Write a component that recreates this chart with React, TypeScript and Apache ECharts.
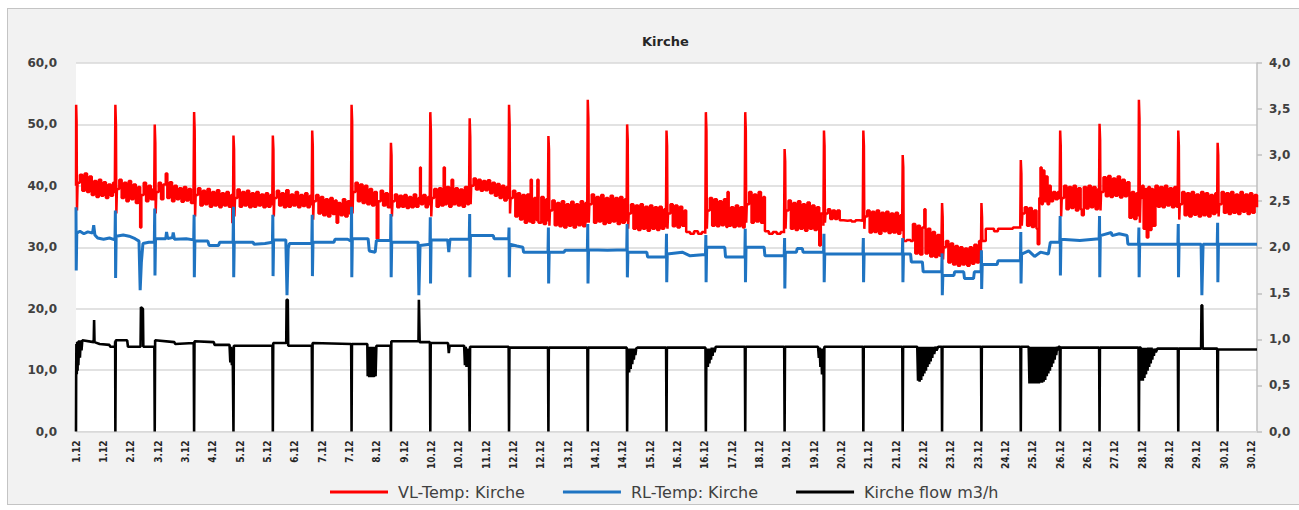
import React, { useEffect, useRef } from "react";
import * as echarts from "echarts";

const chartTitle = "Kirche";
const seriesNames = ["VL-Temp: Kirche", "RL-Temp: Kirche", "Kirche flow m3/h"];
const xTickLabels = [
  "1.12", "1.12", "2.12", "3.12", "3.12", "4.12", "5.12", "5.12", "6.12", "7.12", "7.12",
  "8.12", "9.12", "10.12", "10.12", "11.12", "12.12", "12.12", "13.12", "14.12", "14.12",
  "15.12", "16.12", "16.12", "17.12", "18.12", "19.12", "19.12", "20.12", "21.12", "21.12",
  "22.12", "23.12", "23.12", "24.12", "25.12", "26.12", "26.12", "27.12", "28.12", "28.12",
  "29.12", "30.12", "30.12",
];

// time in days since 1.12 00:00, value in °C
const vlTemp: [number, number][] = [
  [0,40],[0.004,53.2],[0.015,50.5],[0.025,36],[0.04,40.5],[0.1,41.8],[0.16,39.2],[0.22,42],[0.28,39],[0.34,41.5],[0.4,38.5],[0.46,40.8],[0.52,38.2],[0.58,41],[0.64,38.4],[0.7,40.6],[0.76,38],[0.82,40.2],[0.88,38.4],[0.94,40.5],[0.985,38.8],
  [1,53.2],[1.015,50],[1.025,35.5],[1.04,39.5],[1.1,41],[1.16,38],[1.22,40.5],[1.28,37.5],[1.34,40.8],[1.4,37.8],[1.46,40.2],[1.52,37.2],[1.58,39.8],[1.63,33.2],[1.66,38.5],[1.72,40.5],[1.78,37.5],[1.84,40],[1.9,37.8],[1.96,39.5],[1.985,37.6],
  [2,50],[2.015,47],[2.025,35.5],[2.04,39],[2.1,40.5],[2.16,37.8],[2.22,40.2],[2.28,42],[2.32,38],[2.38,40.6],[2.44,37.5],[2.5,40],[2.56,37.8],[2.62,39.6],[2.68,37.4],[2.74,39.8],[2.8,37.6],[2.86,39.5],[2.92,37.2],[2.985,39],
  [3,52],[3.015,49],[3.025,35],[3.04,38.5],[3.1,39.6],[3.16,36.8],[3.22,39.2],[3.28,37],[3.34,39.5],[3.4,36.6],[3.46,39],[3.52,36.8],[3.58,39.3],[3.64,36.5],[3.7,38.8],[3.76,36.8],[3.82,39],[3.88,36.6],[3.94,38.5],[3.97,34],[3.99,37.5],
  [4,48.2],[4.015,46],[4.025,35],[4.04,38],[4.1,39.4],[4.16,36.6],[4.22,39],[4.28,36.8],[4.34,39.2],[4.4,36.5],[4.46,38.8],[4.52,36.6],[4.58,39],[4.64,36.8],[4.7,38.6],[4.76,36.5],[4.82,38.8],[4.88,36.6],[4.94,38.5],[4.985,36.8],
  [5,48.2],[5.015,46],[5.025,35],[5.04,38],[5.1,39.2],[5.16,36.8],[5.22,38.8],[5.28,36.5],[5.34,39.3],[5.4,36.6],[5.46,38.6],[5.52,36.8],[5.58,39],[5.64,36.5],[5.7,38.5],[5.76,36.7],[5.82,38.8],[5.88,36.5],[5.94,38.4],[5.985,36.8],
  [6,49],[6.015,46.5],[6.025,34.5],[6.04,37.5],[6.1,38.5],[6.16,35.5],[6.22,38.2],[6.28,35.2],[6.34,37.8],[6.4,35],[6.46,38],[6.52,35.4],[6.58,37.6],[6.62,34],[6.66,37.2],[6.72,35.2],[6.78,37.8],[6.84,35],[6.9,37.5],[6.95,35.5],[6.985,37.8],
  [7,53.2],[7.015,50.5],[7.025,35.5],[7.04,39],[7.1,40.5],[7.16,37.5],[7.22,40.2],[7.28,37.2],[7.34,40],[7.4,37],[7.46,39.5],[7.52,36.8],[7.58,39],[7.64,31.4],[7.68,37.5],[7.74,39.2],[7.8,36.8],[7.86,38.8],[7.92,36.5],[7.985,38.5],
  [8,47],[8.015,45],[8.025,35],[8.04,37.5],[8.1,38.6],[8.16,36.5],[8.22,38.4],[8.28,36.6],[8.34,38.5],[8.4,36.4],[8.46,38.2],[8.52,36.5],[8.58,38.6],[8.64,36.6],[8.7,38],[8.74,43],[8.76,37],[8.82,38.5],[8.88,36.5],[8.94,38.2],[8.985,36.8],
  [9,52],[9.015,49],[9.025,35],[9.04,38],[9.1,39.5],[9.16,36.6],[9.22,39.6],[9.28,36.8],[9.34,43],[9.37,37],[9.42,39.8],[9.48,36.6],[9.54,41],[9.58,37],[9.64,39.6],[9.7,36.8],[9.76,39.4],[9.82,36.6],[9.88,39.8],[9.94,37],[9.985,39],
  [10,51],[10.015,48],[10.025,37],[10.04,40],[10.1,41.2],[10.16,39.4],[10.22,41],[10.28,39.2],[10.34,40.8],[10.4,39.3],[10.46,40.9],[10.52,38.8],[10.58,40.5],[10.64,38.4],[10.7,40.3],[10.76,38],[10.82,40],[10.88,37.6],[10.94,39.8],[10.985,37.8],
  [11,53.2],[11.015,50],[11.025,35.5],[11.04,38],[11.1,39.2],[11.16,35],[11.22,38.8],[11.28,34.5],[11.34,38.5],[11.4,34],[11.46,38.6],[11.52,34.2],[11.55,41],[11.58,34],[11.64,38],[11.7,34.4],[11.72,41],[11.75,34],[11.82,38.2],[11.88,33.8],[11.94,37.8],[11.985,34.2],
  [12,48.1],[12.015,46],[12.025,33.5],[12.04,36],[12.1,37.6],[12.16,33.6],[12.22,37.2],[12.28,33.4],[12.34,37.5],[12.4,33.2],[12.46,37],[12.52,33.5],[12.58,37.4],[12.64,33.2],[12.7,37],[12.76,33.6],[12.82,37.5],[12.88,33.4],[12.94,37.2],[12.985,34],
  [13,54],[13.015,51],[13.025,34],[13.04,37],[13.1,38.6],[13.16,34],[13.22,38.2],[13.28,34.2],[13.34,38.5],[13.4,33.8],[13.46,38],[13.52,34],[13.58,38.4],[13.64,34.2],[13.7,38],[13.76,33.8],[13.82,38.2],[13.88,34],[13.94,37.8],[13.985,34.2],
  [14,50],[14.015,47.5],[14.025,33],[14.04,35.5],[14.1,37],[14.16,33],[14.22,36.8],[14.28,32.8],[14.34,37],[14.4,33],[14.46,36.6],[14.52,32.7],[14.58,36.8],[14.64,33],[14.7,36.5],[14.76,32.8],[14.82,36.6],[14.88,33],[14.94,36.2],[14.985,33.2],
  [15,49],[15.015,46.5],[15.025,33],[15.04,35.5],[15.1,37],[15.16,33.4],[15.22,36.8],[15.28,33.2],[15.34,36.6],[15.4,33.5],[15.46,36],[15.5,32.5],[15.6,32.2],[15.7,32.6],[15.8,32.2],[15.9,32.5],[15.985,32.2],
  [16,52],[16.015,49],[16.025,33],[16.04,36],[16.1,38],[16.16,33.5],[16.22,37.8],[16.28,33.4],[16.34,37.5],[16.4,33.6],[16.46,37.8],[16.52,33.3],[16.55,39],[16.58,33.5],[16.64,36.5],[16.7,33.3],[16.76,36.8],[16.82,33.4],[16.88,36.5],[16.94,33.2],[16.985,35.5],
  [17,52],[17.015,49],[17.025,34],[17.04,37],[17.1,39],[17.16,34],[17.22,38.6],[17.28,34.2],[17.34,39],[17.4,34],[17.46,38.2],[17.5,32.6],[17.6,32.2],[17.7,32.5],[17.8,32.2],[17.9,32.5],[17.985,32.3],
  [18,46],[18.015,44],[18.025,33],[18.04,36],[18.1,37.6],[18.16,33],[18.22,37.2],[18.28,32.8],[18.34,37.5],[18.4,33],[18.46,37],[18.52,32.7],[18.58,37.3],[18.64,33],[18.7,36.8],[18.76,32.8],[18.82,36.5],[18.88,30.3],[18.92,35.5],[18.985,33.5],
  [19,49],[19.015,46.5],[19.025,34],[19.04,35.5],[19.1,36.2],[19.16,34.6],[19.22,36],[19.28,34.6],[19.34,36],[19.4,34.4],[19.5,34.3],[19.6,34.4],[19.7,34.2],[19.8,34.4],[19.9,34.3],[19.985,34.3],
  [20,49],[20.015,46.5],[20.025,33],[20.04,35],[20.1,36],[20.16,32.4],[20.22,35.8],[20.28,32.5],[20.34,36],[20.4,32.2],[20.46,35.6],[20.52,32.6],[20.58,35.8],[20.64,32.3],[20.7,35.5],[20.76,32.4],[20.82,35.6],[20.88,32.2],[20.94,35.2],[20.985,32.6],
  [21,45],[21.015,43],[21.025,31],[21.1,31.2],[21.2,31],[21.26,33.8],[21.32,29],[21.38,33.5],[21.44,28.8],[21.5,33.2],[21.55,36.2],[21.58,29],[21.64,33],[21.7,28.5],[21.76,32.5],[21.82,28.4],[21.88,32],[21.94,28.6],[21.985,31.5],
  [22,37.2],[22.015,35],[22.025,28],[22.04,30],[22.1,31],[22.16,27.5],[22.22,30.6],[22.28,27.2],[22.34,30.2],[22.4,27],[22.46,30],[22.52,27.2],[22.58,29.8],[22.64,27],[22.7,30],[22.76,27.3],[22.82,30.4],[22.88,27.5],[22.94,31],[22.985,28],
  [23,37.2],[23.015,35],[23.025,31],[23.1,31.1],[23.11,33],[23.3,33],[23.32,32.6],[23.4,32.6],[23.42,33],[23.6,33],[23.8,33.2],[23.985,33],
  [24,44.2],[24.015,42],[24.025,33.5],[24.04,35.5],[24.1,36.5],[24.16,33.5],[24.22,36.4],[24.28,33.3],[24.34,36],[24.4,33],[24.43,30.5],[24.47,38],[24.5,43],[24.53,37],[24.56,42.5],[24.6,37.5],[24.64,41.5],[24.68,37],[24.72,40],[24.76,37.5],[24.82,39],[24.88,37.8],[24.94,39],[24.985,37.8],
  [25,49],[25.015,46.5],[25.025,35],[25.04,38],[25.1,40],[25.16,36.2],[25.22,39.8],[25.28,36.4],[25.34,40],[25.4,36],[25.46,39.6],[25.52,36.2],[25.55,35.2],[25.6,39.8],[25.66,36.3],[25.72,40],[25.78,36.5],[25.84,39.8],[25.9,36.2],[25.96,39.5],[25.985,36.5],
  [26,50.1],[26.015,47.5],[26.025,36],[26.04,39],[26.1,41.4],[26.16,38.3],[26.22,41.6],[26.28,38.2],[26.34,41.2],[26.4,38.4],[26.46,41.5],[26.52,38.1],[26.58,41],[26.64,38.3],[26.7,40.6],[26.76,34.8],[26.82,39],[26.88,34.6],[26.94,38.8],[26.985,35],
  [27,54],[27.015,51],[27.025,34],[27.04,38],[27.08,40],[27.12,33],[27.16,39.5],[27.2,31.6],[27.24,39.8],[27.28,32.8],[27.32,39.5],[27.36,33.5],[27.42,40],[27.48,36.6],[27.54,39.8],[27.6,36.5],[27.66,40],[27.72,36.8],[27.78,39.6],[27.84,36.5],[27.9,39.8],[27.96,36.6],[27.985,38.5],
  [28,49],[28.015,46.5],[28.025,34.5],[28.04,37],[28.1,39],[28.16,35.2],[28.22,38.8],[28.28,35],[28.34,39],[28.4,35.3],[28.46,38.6],[28.52,35],[28.58,39],[28.64,35.2],[28.7,38.8],[28.76,35],[28.82,38.5],[28.88,35.4],[28.94,38.8],[28.985,35.5],
  [29,47],[29.015,45],[29.025,35],[29.04,37],[29.1,39],[29.16,35.6],[29.22,38.8],[29.28,35.4],[29.34,39],[29.4,35.6],[29.46,38.6],[29.52,35.4],[29.58,39],[29.64,35.8],[29.7,38.6],[29.76,35.4],[29.82,38.8],[29.88,35.6],[29.94,38.5],[30,36.5],
];

const rlTemp: [number, number][] = [
  [0,36.5],[0.006,26.2],[0.02,32.3],[0.1,32.6],[0.2,32.2],[0.3,32.5],[0.42,32.3],[0.45,33.6],[0.48,32],[0.55,31.5],[0.7,31.3],[0.85,31.5],[0.99,31.2],
  [1,36],[1.006,25],[1.02,31.8],[1.2,32],[1.35,31.8],[1.5,31.4],[1.6,31],[1.63,23],[1.66,27.5],[1.7,30.6],[1.85,30.8],[1.99,30.8],
  [2,36.3],[2.006,25.4],[2.02,31.4],[2.28,31.4],[2.3,32.5],[2.33,31.4],[2.45,31.6],[2.47,32.4],[2.5,31.3],[2.8,31.4],[2.99,31.2],
  [3,35.3],[3.006,25.1],[3.02,31],[3.35,31],[3.38,30.3],[3.62,30.3],[3.65,30.8],[3.99,30.8],
  [4,36.6],[4.006,25.1],[4.02,30.8],[4.5,30.8],[4.52,30.5],[4.8,30.6],[4.99,30.8],
  [5,35.3],[5.006,25.3],[5.02,31.2],[5.33,31.2],[5.36,22.2],[5.39,29.8],[5.42,30.6],[5.99,30.6],
  [6,35.3],[6.006,25.3],[6.02,30.8],[6.55,30.8],[6.58,31.3],[6.9,31.3],[6.99,31],
  [7,36.6],[7.006,25.1],[7.02,31.4],[7.42,31.4],[7.45,29.4],[7.6,29.2],[7.63,31.1],[7.99,31.1],
  [8,35.4],[8.006,25.1],[8.02,30.8],[8.69,30.8],[8.71,22.2],[8.74,30.3],[8.99,30.5],
  [9,34.9],[9.006,24.1],[9.02,31.2],[9.44,31.2],[9.47,29.2],[9.5,31.3],[9.99,31.3],
  [10,35.4],[10.006,25.1],[10.02,31.9],[10.6,31.9],[10.62,31.4],[10.99,31.4],
  [11,33.2],[11.006,25.1],[11.02,30.5],[11.2,30.2],[11.35,30],[11.37,29.2],[11.99,29.2],
  [12,33.2],[12.006,24.1],[12.02,29.2],[12.4,29.2],[12.42,29.5],[12.99,29.5],
  [13,33.8],[13.006,24.1],[13.02,29.6],[13.5,29.5],[13.99,29.6],
  [14,33.8],[14.006,25.1],[14.02,29.2],[14.5,29.2],[14.52,28.4],[14.99,28.4],
  [15,32.2],[15.006,24.3],[15.02,28.9],[15.4,29.2],[15.6,28.6],[15.99,28.8],
  [16,32],[16.006,24.3],[16.02,30],[16.48,30],[16.5,28.4],[16.99,28.4],
  [17,33],[17.006,24.3],[17.02,30],[17.48,30],[17.5,28.6],[17.99,28.6],
  [18,31.5],[18.006,23.3],[18.02,29.2],[18.3,29.2],[18.32,29.8],[18.45,29.8],[18.47,29.2],[18.99,29.2],
  [19,32.2],[19.006,24.3],[19.02,28.9],[19.99,28.9],
  [20,31.5],[20.006,24.3],[20.02,28.9],[20.99,28.9],
  [21,31.5],[21.006,24.3],[21.02,28.9],[21.2,28.9],[21.22,27.6],[21.5,27.6],[21.52,26],[21.99,26],
  [22,29],[22.006,22.2],[22.02,25.4],[22.3,25.4],[22.32,26],[22.55,26],[22.57,24.9],[22.8,24.9],[22.82,26],[22.99,26],
  [23,29.5],[23.006,23.2],[23.02,27.2],[23.4,27.2],[23.42,27.8],[23.99,27.8],
  [24,32.5],[24.006,24.1],[24.02,28.9],[24.2,29.4],[24.35,28.5],[24.5,29.2],[24.7,28.9],[24.75,30.8],[24.99,30.8],
  [25,35.1],[25.006,25.4],[25.02,31.3],[25.5,31.1],[25.99,31.4],
  [26,35.1],[26.006,25.1],[26.02,31.9],[26.3,32.4],[26.32,31.9],[26.5,32.2],[26.7,31.9],[26.72,30.5],[26.99,30.5],
  [27,33.2],[27.006,25.1],[27.02,30.5],[27.99,30.5],
  [28,33.8],[28.006,25.1],[28.02,30.5],[28.58,30.5],[28.6,22.2],[28.63,30.5],[28.99,30.5],
  [29,34],[29.006,24.3],[29.02,30.5],[30,30.5],
];

// m3/h
const kircheFlow: [number, number][] = [
  [0,0],[0.004,0.6],[0.01,0.95],[0.02,0.62],[0.03,0.97],[0.04,0.66],[0.05,0.98],[0.06,0.72],[0.08,0.99],[0.1,0.8],[0.12,0.99],[0.14,0.88],[0.16,0.99],[0.45,0.97],[0.46,1.21],[0.47,0.97],[0.6,0.95],[0.85,0.94],[0.87,0.92],[0.99,0.92],
  [0.995,0.98],[1,0],[1.006,0],[1.01,0.99],[1.3,0.99],[1.32,0.92],[1.64,0.92],[1.65,1.35],[1.7,1.33],[1.71,0.92],[1.99,0.92],
  [2,0],[2.006,0],[2.01,0.99],[2.5,0.97],[2.52,0.95],[2.99,0.96],
  [3,0],[3.006,0],[3.01,0.98],[3.5,0.97],[3.52,0.94],[3.9,0.94],[3.92,0.75],[3.94,0.92],[3.96,0.72],[3.98,0.9],
  [4,0],[4.006,0],[4.01,0.93],[4.99,0.93],
  [5,0],[5.006,0],[5.01,0.96],[5.34,0.96],[5.35,1.43],[5.38,1.43],[5.39,0.93],[5.99,0.93],
  [6,0],[6.006,0],[6.01,0.96],[6.99,0.95],
  [7,0],[7.006,0],[7.01,0.95],[7.4,0.95],[7.41,0.6],[7.43,0.92],[7.45,0.59],[7.47,0.92],[7.49,0.59],[7.51,0.92],[7.53,0.59],[7.55,0.92],[7.57,0.59],[7.59,0.92],[7.61,0.6],[7.63,0.93],[7.99,0.93],
  [8,0],[8.006,0],[8.01,0.98],[8.7,0.98],[8.71,1.43],[8.73,0.97],[8.99,0.97],
  [9,0],[9.006,0],[9.01,0.96],[9.45,0.96],[9.47,0.85],[9.49,0.93],[9.86,0.93],[9.88,0.72],[9.9,0.92],[9.92,0.7],[9.94,0.9],[9.96,0.72],[9.98,0.9],
  [10,0],[10.006,0],[10.01,0.92],[10.99,0.92],
  [11,0],[11.006,0],[11.01,0.91],[11.99,0.91],
  [12,0],[12.006,0],[12.01,0.91],[12.99,0.91],
  [13,0],[13.006,0],[13.01,0.91],[13.99,0.91],
  [14,0],[14.006,0],[14.01,0.61],[14.03,0.9],[14.05,0.64],[14.07,0.9],[14.09,0.68],[14.11,0.9],[14.13,0.73],[14.15,0.9],[14.17,0.78],[14.19,0.9],[14.21,0.83],[14.23,0.9],[14.26,0.91],[14.99,0.91],
  [15,0],[15.006,0],[15.01,0.91],[15.99,0.91],
  [16,0],[16.006,0],[16.01,0.69],[16.03,0.9],[16.05,0.7],[16.07,0.9],[16.09,0.74],[16.11,0.9],[16.13,0.78],[16.15,0.91],[16.17,0.82],[16.19,0.91],[16.22,0.86],[16.25,0.92],[16.99,0.92],
  [17,0],[17.006,0],[17.01,0.92],[17.99,0.92],
  [18,0],[18.006,0],[18.01,0.92],[18.85,0.92],[18.87,0.8],[18.89,0.91],[18.91,0.7],[18.93,0.9],[18.95,0.62],[18.97,0.9],[18.99,0.6],
  [19,0],[19.006,0],[19.01,0.92],[19.99,0.92],
  [20,0],[20.006,0],[20.01,0.92],[20.99,0.92],
  [21,0],[21.006,0],[21.01,0.92],[21.37,0.92],[21.39,0.55],[21.41,0.92],[21.43,0.54],[21.45,0.92],[21.47,0.56],[21.49,0.92],[21.51,0.6],[21.53,0.92],[21.55,0.63],[21.57,0.92],[21.59,0.66],[21.61,0.92],[21.63,0.7],[21.65,0.92],[21.67,0.73],[21.69,0.92],[21.71,0.76],[21.73,0.92],[21.75,0.8],[21.77,0.92],[21.8,0.84],[21.83,0.92],[21.86,0.88],[21.9,0.92],[21.99,0.92],
  [22,0],[22.006,0],[22.01,0.92],[22.99,0.92],
  [23,0],[23.006,0],[23.01,0.92],[23.99,0.92],
  [24,0],[24.006,0],[24.01,0.92],[24.2,0.92],[24.22,0.52],[24.24,0.92],[24.26,0.52],[24.28,0.92],[24.3,0.52],[24.32,0.92],[24.34,0.52],[24.36,0.92],[24.38,0.52],[24.4,0.92],[24.42,0.52],[24.44,0.92],[24.46,0.52],[24.48,0.92],[24.5,0.53],[24.52,0.92],[24.54,0.53],[24.56,0.92],[24.58,0.54],[24.6,0.92],[24.62,0.56],[24.64,0.92],[24.66,0.6],[24.68,0.92],[24.7,0.63],[24.72,0.92],[24.74,0.66],[24.76,0.92],[24.78,0.7],[24.8,0.92],[24.82,0.74],[24.84,0.92],[24.86,0.78],[24.88,0.92],[24.9,0.83],[24.92,0.92],[24.94,0.88],[24.96,0.92],[24.99,0.92],
  [25,0],[25.006,0],[25.01,0.91],[25.99,0.91],
  [26,0],[26.006,0],[26.01,0.91],[26.99,0.91],
  [27,0],[27.006,0],[27.01,0.91],[27.05,0.91],[27.06,0.55],[27.08,0.91],[27.1,0.55],[27.12,0.91],[27.14,0.58],[27.16,0.91],[27.18,0.62],[27.2,0.91],[27.22,0.66],[27.24,0.91],[27.26,0.7],[27.28,0.91],[27.3,0.74],[27.32,0.91],[27.34,0.78],[27.36,0.9],[27.38,0.82],[27.4,0.9],[27.43,0.86],[27.47,0.9],[27.99,0.9],
  [28,0],[28.006,0],[28.01,0.9],[28.58,0.9],[28.59,1.37],[28.61,1.37],[28.62,0.9],[28.99,0.9],
  [29,0],[29.006,0],[29.01,0.89],[30,0.89],
];

const labelFont = "'DejaVu Sans', sans-serif";
const tickFont = "'DejaVu Sans Condensed', 'Liberation Sans Narrow', 'DejaVu Sans', sans-serif";

export default function App() {
  const ref = useRef<HTMLDivElement>(null);
  useEffect(() => {
    if (!ref.current) return;
    const chart = echarts.init(ref.current, undefined, { renderer: "svg" });
    const step = 25 / 36;
    const comma = (v: number) => v.toFixed(1).replace(".", ",");
    chart.setOption({
      animation: false,
      backgroundColor: "transparent",
      title: {
        text: chartTitle,
        left: 637,
        top: 30,
        textStyle: { fontFamily: labelFont, fontSize: 13, fontWeight: "bold", color: "#262626" },
      },
      legend: {
        data: seriesNames,
        left: 325,
        top: 479,
        icon: "rect",
        itemWidth: 58,
        itemHeight: 3,
        itemGap: 38,
        textStyle: { fontFamily: labelFont, fontSize: 16, color: "#404040", padding: [0, 0, 0, 5] },
      },
      grid: {
        left: 76,
        right: 42,
        top: 63,
        bottom: 78.5,
        show: true,
        backgroundColor: "#ffffff",
        borderWidth: 0,
      },
      xAxis: {
        type: "value",
        min: 0,
        max: 30,
        interval: step,
        axisLine: { show: true, lineStyle: { color: "#d9d9d9", width: 1 } },
        axisTick: { show: false },
        splitLine: { show: false },
        axisLabel: {
          rotate: 90,
          margin: 9,
          fontFamily: tickFont,
          fontSize: 10,
          fontWeight: "bold",
          color: "#262626",
          formatter: (v: number) => {
            const k = Math.round(v / step);
            if (Math.abs(v - k * step) > 0.01) return "";
            return xTickLabels[k] ?? "";
          },
        },
      },
      yAxis: [
        {
          type: "value",
          min: 0,
          max: 60,
          interval: 10,
          position: "left",
          axisLine: { show: false },
          axisTick: { show: false },
          splitLine: { show: true, lineStyle: { color: "#d9d9d9", width: 1.5 } },
          axisLabel: { formatter: comma, margin: 19, fontFamily: labelFont, fontSize: 12, fontWeight: "bold", color: "#404040" },
        },
        {
          type: "value",
          min: 0,
          max: 4,
          interval: 0.5,
          position: "right",
          axisLine: { show: true, lineStyle: { color: "#bfbfbf", width: 1.5 } },
          axisTick: { show: true, length: 5, lineStyle: { color: "#bfbfbf", width: 1.5 } },
          splitLine: { show: false },
          axisLabel: { formatter: comma, margin: 12, fontFamily: labelFont, fontSize: 12, fontWeight: "bold", color: "#404040" },
        },
      ],
      series: [
        {
          name: seriesNames[0],
          type: "line",
          yAxisIndex: 0,
          data: vlTemp,
          step: "end",
          showSymbol: false,
          symbol: "none",
          color: "#ff0000",
          lineStyle: { color: "#ff0000", width: 2.5 },
          z: 2,
        },
        {
          name: seriesNames[1],
          type: "line",
          yAxisIndex: 0,
          data: rlTemp,
          showSymbol: false,
          symbol: "none",
          color: "#1f74c2",
          lineStyle: { color: "#1f74c2", width: 3 },
          z: 3,
        },
        {
          name: seriesNames[2],
          type: "line",
          yAxisIndex: 1,
          data: kircheFlow,
          showSymbol: false,
          symbol: "none",
          color: "#000000",
          lineStyle: { color: "#000000", width: 2.6 },
          z: 4,
        },
      ],
    });
    return () => chart.dispose();
  }, []);
  return (
    <div style={{ position: "fixed", left: 0, top: 0, width: 1299, height: 510, background: "#ffffff" }}>
      <div
        style={{
          position: "absolute",
          left: 7,
          top: 8,
          width: 1300,
          height: 497,
          background: "#f2f2f2",
          border: "1.5px solid #c4c4c4",
          boxSizing: "border-box",
        }}
      />
      <div ref={ref} style={{ position: "absolute", left: 0, top: 0, width: 1299, height: 510 }} />
    </div>
  );
}
